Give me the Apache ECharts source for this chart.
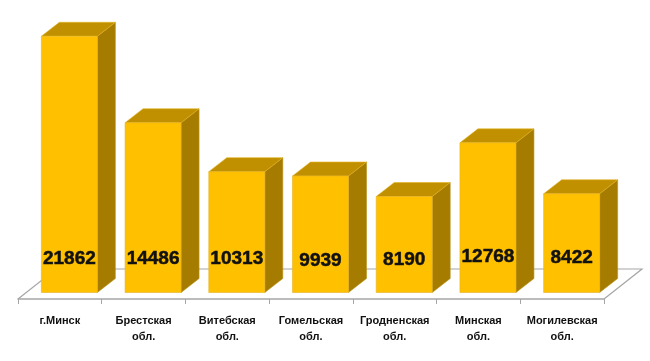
<!DOCTYPE html>
<html>
<head>
<meta charset="utf-8">
<style>html,body{margin:0;padding:0;background:#fff}#c{width:650px;height:361px}</style>
<script src="https://cdn.jsdelivr.net/npm/echarts@6/dist/echarts.min.js"></script>
</head>
<body>
<div id="c"></div>
<script>
const categories = ['г.Минск', 'Брестская\nобл.', 'Витебская\nобл.', 'Гомельская\nобл.', 'Гродненская\nобл.', 'Минская\nобл.', 'Могилевская\nобл.'];
const values = [21862, 14486, 10313, 9939, 8190, 12768, 8422];

// styling
const FRONT = '#FFC000', TOP = '#C09000', SIDE = '#A67C00', EDGE = '#E6B422', FLOOR = '#A6A6A6';
const labelNudge = [0, 0, 0, 2, 1, -2, -1];
const depthX = 18, depthY = 14, shiftX = 9.5, shiftY = 6.5, barW = 56, floorX = 38, floorY = 30;

const chart = echarts.init(document.getElementById('c'), null, {renderer: 'canvas'});
chart.setOption({
  animation: false,
  backgroundColor: '#fff',
  grid: {left: 18, right: 46, top: 6, height: 293, containLabel: false},
  xAxis: {
    type: 'category',
    data: categories,
    boundaryGap: true,
    axisLine: {show: true, lineStyle: {color: FLOOR, width: 1.5}},
    axisTick: {show: true, length: 5, lineStyle: {color: FLOOR, width: 1}},
    axisLabel: {interval: 0, margin: 14, color: '#111', fontFamily: 'Liberation Sans', fontWeight: 'bold', fontSize: 11, lineHeight: 16}
  },
  yAxis: {type: 'value', min: 0, max: 25000, show: false, splitLine: {show: false}},
  series: [
    {
      type: 'custom', coordinateSystem: 'cartesian2d', silent: true, z: 1, clip: false,
      data: [[0, 0]],
      renderItem(params, api) {
        const band = api.size([1, 0])[0];
        const n = categories.length;
        const a = api.coord([0, 0]), b = api.coord([n - 1, 0]);
        const x0 = a[0] - band / 2, x1 = b[0] + band / 2, y = a[1];
        return {
          type: 'polyline',
          shape: {points: [[x0, y], [x0 + floorX, y - floorY], [x1 + floorX, y - floorY], [x1, y]]},
          style: {stroke: FLOOR, lineWidth: 1.2, fill: null}
        };
      }
    },
    {
      type: 'custom', coordinateSystem: 'cartesian2d', silent: true, z: 2, clip: false,
      data: values.map((v, i) => [i, v]),
      encode: {x: 0, y: 1},
      renderItem(params, api) {
        const i = api.value(0), v = api.value(1);
        const base = api.coord([i, 0]), top = api.coord([i, v]);
        const l = base[0] + shiftX - barW / 2, r = l + barW;
        const yb = base[1] - shiftY, yt = top[1] - shiftY;
        return {
          type: 'group',
          children: [
            {type: 'polygon', shape: {points: [[r, yt], [r + depthX, yt - depthY], [r + depthX, yb - depthY], [r, yb]]}, style: {fill: SIDE, stroke: '#B8901A', lineWidth: 0.6}},
            {type: 'polygon', shape: {points: [[l, yt], [l + depthX, yt - depthY], [r + depthX, yt - depthY], [r, yt]]}, style: {fill: TOP, stroke: EDGE, lineWidth: 0.6}},
            {type: 'rect', shape: {x: l, y: yt, width: barW, height: yb - yt}, style: {fill: FRONT, stroke: EDGE, lineWidth: 0.6}},
            {type: 'text', style: {text: String(v), x: (l + r) / 2, y: yb - 34 + labelNudge[i], align: 'center', verticalAlign: 'middle',
              fontFamily: 'Liberation Sans', fontWeight: 'bold', fontSize: 19, fill: '#111', stroke: '#111', lineWidth: 0.5}}
          ]
        };
      }
    }
  ]
});
</script>
</body>
</html>
